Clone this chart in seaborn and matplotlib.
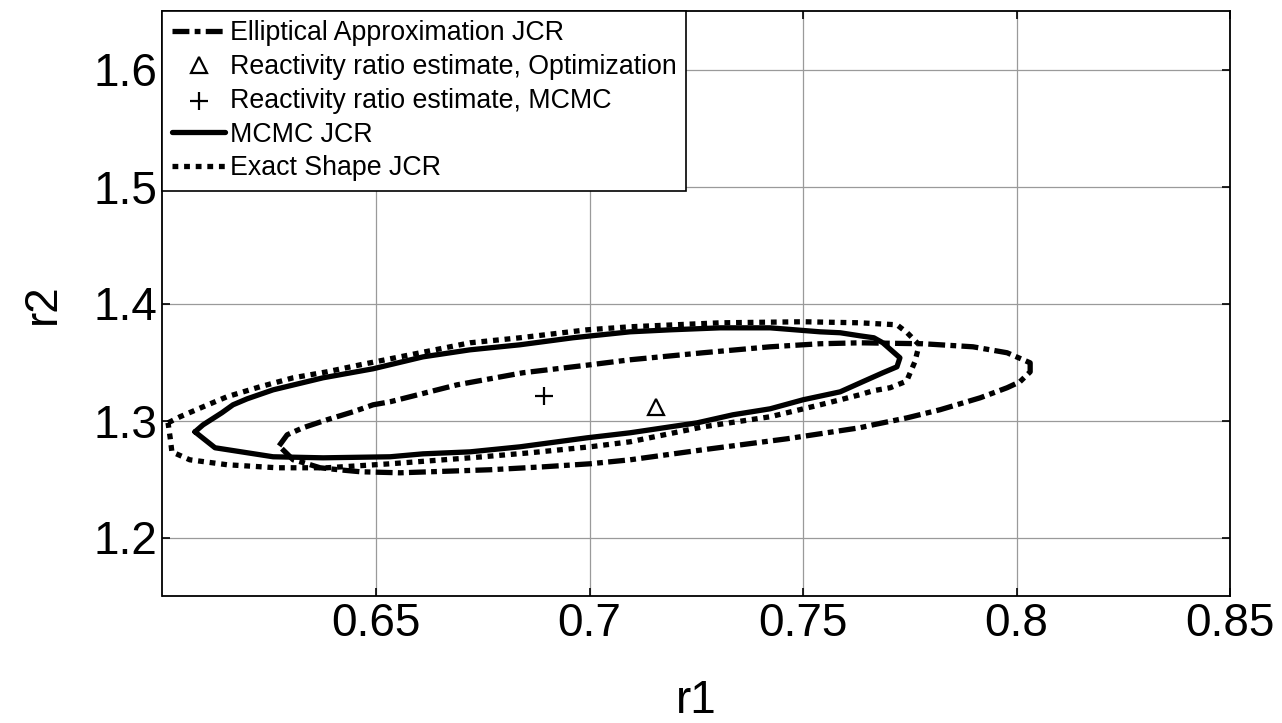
import numpy as np
import pandas as pd
import matplotlib
matplotlib.use("Agg")
import matplotlib.pyplot as plt
import seaborn as sns

# ---- data ----
ellipse_r1 = [0.6273, 0.6292, 0.6329, 0.6385, 0.6446, 0.6493, 0.6533, 0.6690, 0.6844, 0.7001,
              0.7095, 0.7266, 0.7423, 0.7540, 0.7633, 0.7781, 0.7898, 0.7978, 0.8032, 0.8032,
              0.8008, 0.7978, 0.7915, 0.7821, 0.7744, 0.7664, 0.7633, 0.7463, 0.7266, 0.7095,
              0.7001, 0.6891, 0.6767, 0.6556, 0.6463, 0.6413, 0.6369, 0.6331, 0.6306, 0.6273]
ellipse_r2 = [1.2783, 1.2878, 1.2938, 1.3006, 1.3074, 1.3134, 1.3160, 1.3305, 1.3408, 1.3476,
              1.3519, 1.3579, 1.3630, 1.3656, 1.3664, 1.3656, 1.3630, 1.3579, 1.3493, 1.3416,
              1.3331, 1.3280, 1.3194, 1.3092, 1.3023, 1.2963, 1.2938, 1.2844, 1.2750, 1.2664,
              1.2630, 1.2604, 1.2579, 1.2553, 1.2562, 1.2579, 1.2596, 1.2639, 1.2664, 1.2783]

mcmc_r1 = [0.6076, 0.6095, 0.6139, 0.6165, 0.6198, 0.6259, 0.6376, 0.6493, 0.6610, 0.6720,
           0.6837, 0.6961, 0.7095, 0.7189, 0.7306, 0.7423, 0.7540, 0.7587, 0.7633, 0.7666,
           0.7687, 0.7727, 0.7720, 0.7687, 0.7650, 0.7587, 0.7500, 0.7423, 0.7336, 0.7252,
           0.7095, 0.6994, 0.6837, 0.6720, 0.6610, 0.6533, 0.6376, 0.6259, 0.6123, 0.6076]
mcmc_r2 = [1.2903, 1.2963, 1.3066, 1.3134, 1.3185, 1.3262, 1.3365, 1.3442, 1.3544, 1.3604,
           1.3647, 1.3707, 1.3758, 1.3775, 1.3792, 1.3792, 1.3758, 1.3750, 1.3724, 1.3707,
           1.3664, 1.3536, 1.3459, 1.3408, 1.3348, 1.3245, 1.3177, 1.3100, 1.3049, 1.2980,
           1.2895, 1.2852, 1.2775, 1.2732, 1.2715, 1.2690, 1.2681, 1.2690, 1.2767, 1.2903]

exact_r1 = [0.6013, 0.6041, 0.6095, 0.6151, 0.6228, 0.6306, 0.6385, 0.6463, 0.6556, 0.6720,
            0.6837, 0.6994, 0.7095, 0.7306, 0.7500, 0.7633, 0.7720, 0.7744, 0.7772, 0.7762,
            0.7744, 0.7739, 0.7704, 0.7664, 0.7633, 0.7587, 0.7540, 0.7423, 0.7266, 0.7095,
            0.7001, 0.6861, 0.6720, 0.6533, 0.6385, 0.6268, 0.6151, 0.6064, 0.6022, 0.6018,
            0.6013]
exact_r2 = [1.2980, 1.3032, 1.3117, 1.3203, 1.3288, 1.3365, 1.3416, 1.3476, 1.3544, 1.3664,
            1.3707, 1.3775, 1.3801, 1.3835, 1.3844, 1.3835, 1.3818, 1.3750, 1.3647, 1.3502,
            1.3348, 1.3331, 1.3280, 1.3254, 1.3220, 1.3177, 1.3134, 1.3032, 1.2946, 1.2818,
            1.2775, 1.2724, 1.2681, 1.2630, 1.2596, 1.2596, 1.2622, 1.2664, 1.2732, 1.2852,
            1.2980]

opt_estimate = ([0.7156], [1.3117])
mcmc_estimate = ([0.6893], [1.3211])

labels = ["Elliptical Approximation JCR",
          "Reactivity ratio estimate, Optimization",
          "Reactivity ratio estimate, MCMC",
          "MCMC JCR",
          "Exact Shape JCR"]
xticks = [0.65, 0.7, 0.75, 0.8, 0.85]
xticklabels = ["0.65", "0.7", "0.75", "0.8", "0.85"]
yticks = [1.2, 1.3, 1.4, 1.5, 1.6]
yticklabels = ["1.2", "1.3", "1.4", "1.5", "1.6"]

# ---- style ----
sns.set_theme(style="white")
plt.rcParams['font.family'] = ['Liberation Sans', 'DejaVu Sans']
plt.rcParams['text.color'] = 'black'
plt.rcParams['axes.labelcolor'] = 'black'
plt.rcParams['xtick.color'] = 'black'
plt.rcParams['ytick.color'] = 'black'

fig = plt.figure(figsize=(12.82, 7.23), dpi=100)
ax = fig.add_axes([162.5 / 1282, 1 - 596 / 723, 1067.5 / 1282, 585 / 723])

LW = 3.8
h_ell = sns.lineplot(x=ellipse_r1, y=ellipse_r2, sort=False, estimator=None, ax=ax,
                     color="black", lw=LW, label=labels[0]).lines[-1]
h_ell.set_dashes((3.2, 1.0, 1.1, 1.0))
h_ell.set_dash_capstyle("butt")

h_opt = ax.plot(*opt_estimate, linestyle="none", marker="^", markersize=11,
                markerfacecolor="none", markeredgecolor="black", markeredgewidth=1.6,
                label=labels[1])[0]
sns.scatterplot(x=mcmc_estimate[0], y=mcmc_estimate[1], marker="+", s=180,
                color="black", linewidth=1.6, ax=ax, label=labels[2])
h_mc_pt = ax.collections[-1]

h_mcmc = sns.lineplot(x=mcmc_r1, y=mcmc_r2, sort=False, estimator=None, ax=ax,
                      color="black", lw=LW, label=labels[3]).lines[-1]

h_ex = sns.lineplot(x=exact_r1, y=exact_r2, sort=False, estimator=None, ax=ax,
                    color="black", lw=LW, label=labels[4]).lines[-1]
h_ex.set_dashes((1.1, 1.1))
h_ex.set_dash_capstyle("butt")

ax.set_xlim(0.6, 0.85)
ax.set_ylim(1.15, 1.65)
ax.set_xticks(xticks)
ax.set_xticklabels(xticklabels)
ax.set_yticks(yticks)
ax.set_yticklabels(yticklabels)
ax.grid(True, color="#9a9a9a", linewidth=0.9)
ax.set_axisbelow(True)
for s in ax.spines.values():
    s.set_color("black")
    s.set_linewidth(1.3)
    s.set_visible(True)
ax.tick_params(axis="both", which="major", direction="in", length=6, width=1.2,
               top=True, right=True, bottom=True, left=True, labelsize=33, pad=4,
               colors="black")
ax.set_xlabel("r1", fontsize=33, labelpad=24)
ax.set_ylabel("r2", fontsize=33, labelpad=20)

leg = ax.legend([h_ell, h_opt, h_mc_pt, h_mcmc, h_ex], labels, loc="upper left",
                bbox_to_anchor=(0, 1), borderaxespad=0, fontsize=19.3,
                fancybox=False, framealpha=1, edgecolor="black",
                handlelength=2.0, handletextpad=0.15, labelspacing=0.29,
                borderpad=0.35, markerscale=1.0)
leg.get_frame().set_linewidth(1.2)
for t in leg.get_texts():
    t.set_color("black")

fig.savefig("out.png", dpi=100)
